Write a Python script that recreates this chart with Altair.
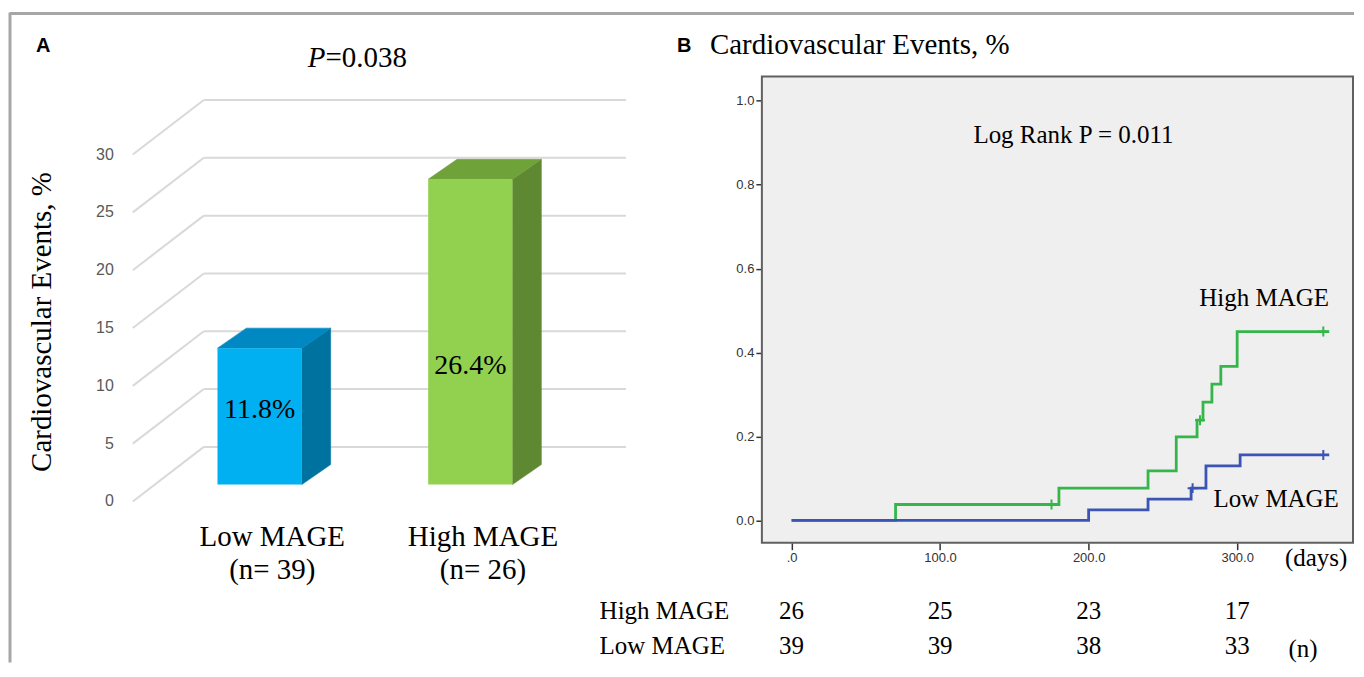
import altair as alt
import pandas as pd

# ---------------- data ----------------
# Panel A (3D column chart)
categories = ["Low MAGE", "High MAGE"]
group_n = [39, 26]
event_rates = [11.8, 26.4]
rate_ticks = [0, 5, 10, 15, 20, 25, 30]

# Panel B (Kaplan-Meier cumulative events)
high_times = [0, 70, 180, 240, 259, 273, 277, 283, 289, 300, 362]
high_cum = [0.0, 0.038, 0.077, 0.118, 0.199, 0.239, 0.282, 0.325, 0.367, 0.45, 0.45]
high_censor_times = [175, 275, 358]
high_censor_cum = [0.038, 0.239, 0.45]
low_times = [0, 200, 240, 269, 279, 302, 362]
low_cum = [0.0, 0.025, 0.051, 0.077, 0.13, 0.156, 0.156]
low_censor_times = [270, 358]
low_censor_cum = [0.077, 0.156]
km_ticks_x = [0, 100, 200, 300]
km_ticks_y = [0.0, 0.2, 0.4, 0.6, 0.8, 1.0]
risk_rows = ["High MAGE", "Low MAGE"]
risk_times = [0, 100, 200, 300]
risk_high = [26, 25, 23, 17]
risk_low = [39, 39, 38, 33]

# ---------------- style ----------------
W, H = 1348, 655
SERIF = "Liberation Serif"
SANS = "Liberation Sans"

front_cols = ["#00b0f0", "#92d050"]
top_cols = ["#0088c2", "#70a23a"]
side_cols = ["#00729f", "#5e8831"]
km_cols = {"High MAGE": "#34b64b", "Low MAGE": "#3a55b4"}

# panel A projection (slot units on x, percent units on y)
XA = alt.Scale(domain=[-1, 2], range=[41, 674], nice=False, zero=False)
YA = alt.Scale(domain=[0, 30], range=[476.8, 129.4], nice=False, zero=False)
HALF, DXA, DYA = 0.2, 0.137, 1.73
FLOOR_FRONT_X, FLOOR_BACK_X, WALL_END_X = -0.602, -0.265, 1.739
FRONT_DY, BACK_DY, LABEL_X = -1.46, 3.26, -0.692

# panel B scales
XB = alt.Scale(domain=[-20, 378], range=[755, 1347], nice=False, zero=False)
YB = alt.Scale(domain=[-0.053, 1.058], range=[535, 68], nice=False, zero=False)


def q(field, scale, **kw):
    return alt.X(field, type="quantitative", scale=scale, axis=None, **kw)


def qy(field, scale, **kw):
    return alt.Y(field, type="quantitative", scale=scale, axis=None, **kw)


def text_layer(txt, x, y, size, font=SERIF, align="left", weight="normal",
               style="normal", angle=0, baseline="alphabetic", color="black"):
    return alt.Chart(pd.DataFrame({"t": [txt]})).mark_text(
        font=font, fontSize=size, align=align, fontWeight=weight,
        fontStyle=style, angle=angle, baseline=baseline, color=color
    ).encode(x=alt.value(x), y=alt.value(y), text="t:N")


# ---------------- frame ----------------
one = pd.DataFrame({"a": [0]})
frame_top = alt.Chart(one).mark_rule(color="#a6a6a6", strokeWidth=3).encode(
    x=alt.value(2), x2=alt.value(W), y=alt.value(5))
frame_left = alt.Chart(one).mark_rule(color="#a6a6a6", strokeWidth=3).encode(
    x=alt.value(2), y=alt.value(4), y2=alt.value(H))

# ---------------- panel A ----------------
grid_df = pd.DataFrame({
    "t": rate_ticks,
    "fx": [FLOOR_FRONT_X] * len(rate_ticks),
    "bx": [FLOOR_BACK_X] * len(rate_ticks),
    "ex": [WALL_END_X] * len(rate_ticks),
    "lx": [LABEL_X] * len(rate_ticks),
})
grid_df["fy"] = grid_df["t"] + FRONT_DY
grid_df["by"] = grid_df["t"] + BACK_DY

wall = alt.Chart(grid_df).mark_rule(color="#d9d9d9", strokeWidth=2).encode(
    x=q("bx", XA), x2="ex", y=qy("by", YA))
floor = alt.Chart(grid_df).mark_rule(color="#d9d9d9", strokeWidth=2).encode(
    x=q("fx", XA), x2="bx", y=qy("fy", YA), y2="by")
tick_lbl = alt.Chart(grid_df).mark_text(
    font=SANS, fontSize=16, color="#595959", align="right", baseline="middle"
).encode(x=q("lx", XA), y=qy("fy", YA), text="t:Q")

bars_df = pd.DataFrame({"cat": categories, "v": event_rates, "n": group_n})
bars_df["i"] = range(len(categories))
bars_df["x0"] = bars_df["i"] - HALF
bars_df["x1"] = bars_df["i"] + HALF
bars_df["y0"] = 0.0
bars_df["front"] = front_cols
bars_df["label"] = bars_df["v"].map(lambda v: f"{v}%")
bars_df["ly"] = 0.26 * bars_df["v"] + 3.39
bars_df["catlabel"] = [f"{c}\n(n= {n})" for c, n in zip(categories, group_n)]
bars_df["cx"] = bars_df["i"] + 0.06

side_rows, top_rows = [], []
for i, (c, v) in enumerate(zip(categories, event_rates)):
    side_rows.append({"cat": c, "x": i + HALF, "y": 0.0, "y2": v, "col": side_cols[i]})
    side_rows.append({"cat": c, "x": i + HALF + DXA, "y": DYA, "y2": v + DYA, "col": side_cols[i]})
    top_rows.append({"cat": c, "y": v, "x": i - HALF, "x2": i + HALF, "col": top_cols[i]})
    top_rows.append({"cat": c, "y": v + DYA, "x": i - HALF + DXA, "x2": i + HALF + DXA, "col": top_cols[i]})
side_df = pd.DataFrame(side_rows)
top_df = pd.DataFrame(top_rows)

side = alt.Chart(side_df).mark_area(orient="vertical", strokeWidth=0.6).encode(
    x=q("x", XA), y=qy("y", YA, stack=False), y2="y2",
    color=alt.Color("col:N", scale=None), stroke=alt.Stroke("col:N", scale=None))
top = alt.Chart(top_df).mark_area(orient="horizontal", strokeWidth=0.6).encode(
    y=qy("y", YA), x=q("x", XA, stack=False), x2="x2",
    color=alt.Color("col:N", scale=None), stroke=alt.Stroke("col:N", scale=None))
front = alt.Chart(bars_df).mark_rect().encode(
    x=q("x0", XA), x2="x1", y=qy("y0", YA), y2="v",
    color=alt.Color("front:N", scale=None))
bar_lbl = alt.Chart(bars_df).mark_text(
    font=SERIF, fontSize=28, baseline="middle", align="center", color="black"
).encode(x=q("i", XA), y=qy("ly", YA), text="label:N")
cat_lbl = alt.Chart(bars_df).mark_text(
    font=SERIF, fontSize=29, baseline="alphabetic", align="center",
    lineBreak="\n", lineHeight=33, color="black"
).encode(x=q("cx", XA), y=alt.value(538), text="catlabel:N")

panelA = alt.layer(wall, floor, tick_lbl, side, top, front, bar_lbl, cat_lbl)

# ---------------- panel B ----------------
x_axis = alt.Axis(orient="bottom", offset=535 - H, values=km_ticks_x,
                  labelExpr="datum.value == 0 ? '.0' : format(datum.value, '.1f')",
                  tickSize=7, tickColor="#333333", tickWidth=1.5,
                  labelFont=SANS, labelFontSize=13, labelColor="#333333",
                  labelPadding=2, domain=False, grid=False, title="")
y_axis = alt.Axis(orient="left", offset=-755, values=km_ticks_y, format=".1f",
                  tickSize=6, tickColor="#333333", tickWidth=1.5,
                  labelFont=SANS, labelFontSize=13, labelColor="#333333",
                  labelPadding=2, domain=False, grid=False, title="")

box_df = pd.DataFrame({"x": [XB.domain[0]], "x2": [XB.domain[1]],
                       "y": [YB.domain[0]], "y2": [YB.domain[1]]})
box = alt.Chart(box_df).mark_rect(fill="#efefef", stroke="#606060", strokeWidth=2).encode(
    x=alt.X("x:Q", scale=XB, axis=x_axis), x2="x2",
    y=alt.Y("y:Q", scale=YB, axis=y_axis), y2="y2")

km_df = pd.concat([
    pd.DataFrame({"x": high_times, "y": high_cum, "grp": "High MAGE"}),
    pd.DataFrame({"x": low_times, "y": low_cum, "grp": "Low MAGE"}),
])
km_df["col"] = km_df["grp"].map(km_cols)
cens_df = pd.concat([
    pd.DataFrame({"x": high_censor_times, "y": high_censor_cum, "grp": "High MAGE"}),
    pd.DataFrame({"x": low_censor_times, "y": low_censor_cum, "grp": "Low MAGE"}),
])
cens_df["col"] = cens_df["grp"].map(km_cols)

lines = alt.Chart(km_df).mark_line(interpolate="step-after", strokeWidth=2.8).encode(
    x=alt.X("x:Q", scale=XB, axis=x_axis), y=alt.Y("y:Q", scale=YB, axis=y_axis),
    color=alt.Color("col:N", scale=None), detail="grp:N")
cens = alt.Chart(cens_df).mark_point(
    shape="M-1,0H1M0,-1V1", size=100, strokeWidth=2, filled=False, opacity=1
).encode(
    x=alt.X("x:Q", scale=XB, axis=x_axis), y=alt.Y("y:Q", scale=YB, axis=y_axis),
    color=alt.Color("col:N", scale=None))

panelB = alt.layer(box, lines, cens)

# risk table
risk_df = pd.concat([
    pd.DataFrame({"x": risk_times, "n": risk_high, "row": "High MAGE"}),
    pd.DataFrame({"x": risk_times, "n": risk_low, "row": "Low MAGE"}),
])
row_axis = alt.Axis(orient="left", offset=-592, ticks=False, tickSize=0, domain=False,
                    labelAlign="left", labelBaseline="alphabetic", labelPadding=0,
                    labelFont=SERIF, labelFontSize=25, labelColor="black",
                    grid=False, title="")
table = alt.Chart(risk_df).mark_text(
    font=SERIF, fontSize=25, baseline="alphabetic", align="center", color="black"
).encode(
    x=alt.X("x:Q", scale=XB, axis=None),
    y=alt.Y("row:N", scale=alt.Scale(domain=risk_rows, range=[611, 646], padding=0),
            axis=row_axis),
    text="n:Q")

# ---------------- annotations ----------------
texts = [
    text_layer("A", 28, 44, 20, font=SANS, weight="bold"),
    text_layer("P", 318, 59, 29, align="right", style="italic"),
    text_layer("=0.038", 318, 59, 29),
    text_layer("Cardiovascular Events, %", 34, 314, 29, align="center", angle=270,
               baseline="middle"),
    text_layer("B", 670, 44, 20, font=SANS, weight="bold"),
    text_layer("Cardiovascular Events, %", 703, 46, 29),
    text_layer("Log Rank P = 0.011", 1067, 135, 25, align="center"),
    text_layer("High MAGE", 1258, 298, 25, align="center"),
    text_layer("Low MAGE", 1270, 499, 25, align="center"),
    text_layer("(days)", 1310, 558, 25, align="center"),
    text_layer("(n)", 1297, 649, 25, align="center"),
]

chart = alt.layer(
    frame_top, frame_left, panelA, panelB, table, *texts
).resolve_scale(
    x="independent", y="independent"
).properties(
    width=W, height=H, padding=0, background="white"
).configure_view(strokeWidth=0)

chart.save("out.html", embed_options={"renderer": "svg", "actions": False})
